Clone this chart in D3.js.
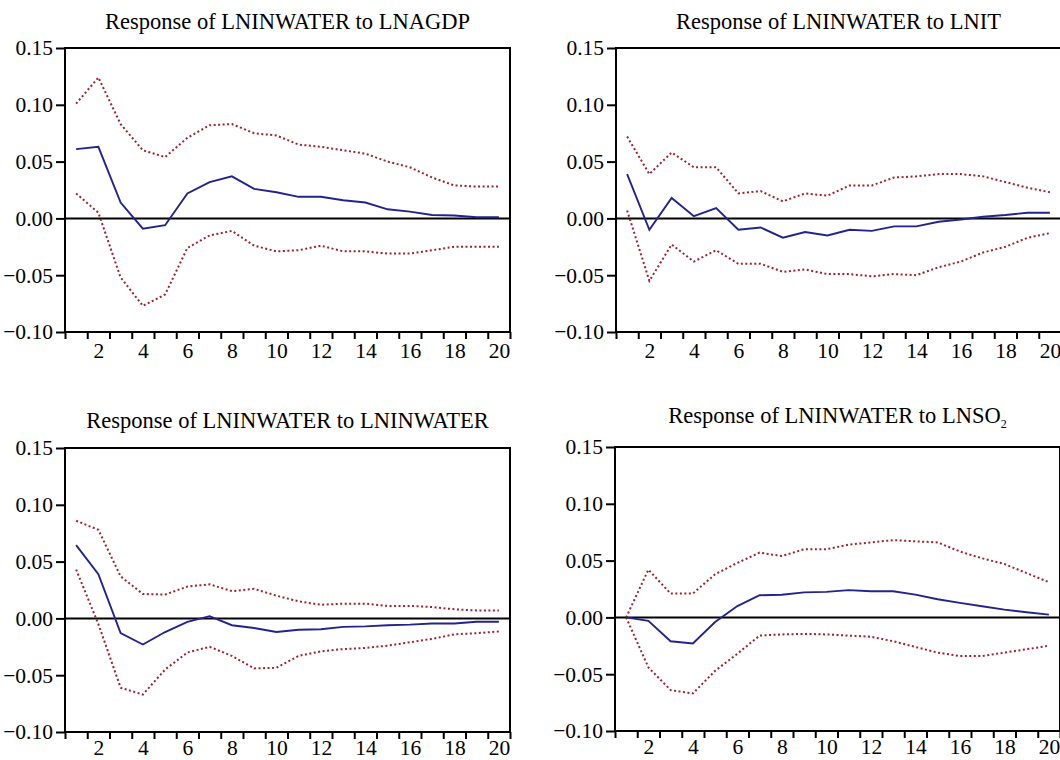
<!DOCTYPE html>
<html>
<head>
<meta charset="utf-8">
<script src="https://cdn.jsdelivr.net/npm/d3@7/dist/d3.min.js"></script>
<style>
  html, body { margin: 0; padding: 0; background: #fff; }
  svg { display: block; }
  text { font-family: "Liberation Serif", "Times New Roman", serif; fill: #000; }
</style>
</head>
<body>
<svg id="chart" width="1060" height="760"></svg>
<script>
// Impulse responses over 20 periods, with ±2 S.E. bands
const periods = d3.range(1, 21);
const yTicks = [-0.10, -0.05, 0.00, 0.05, 0.10, 0.15];
const xTickLabels = [2, 4, 6, 8, 10, 12, 14, 16, 18, 20];

const agdpResp  = [0.061, 0.063, 0.014, -0.009, -0.006, 0.022, 0.032, 0.037, 0.026, 0.023, 0.019, 0.019, 0.016, 0.014, 0.008, 0.006, 0.003, 0.0025, 0.001, 0.001];
const agdpUpper = [0.101, 0.124, 0.083, 0.060, 0.054, 0.071, 0.082, 0.083, 0.075, 0.073, 0.065, 0.063, 0.060, 0.057, 0.050, 0.045, 0.036, 0.029, 0.028, 0.028];
const agdpLower = [0.022, 0.005, -0.052, -0.077, -0.067, -0.026, -0.015, -0.011, -0.024, -0.029, -0.028, -0.024, -0.029, -0.029, -0.031, -0.031, -0.028, -0.025, -0.025, -0.025];

const itResp  = [0.039, -0.010, 0.018, 0.002, 0.009, -0.010, -0.008, -0.017, -0.012, -0.015, -0.010, -0.011, -0.007, -0.007, -0.003, -0.001, 0.0015, 0.003, 0.005, 0.005];
const itUpper = [0.072, 0.039, 0.058, 0.045, 0.045, 0.022, 0.024, 0.015, 0.022, 0.020, 0.029, 0.029, 0.036, 0.037, 0.039, 0.039, 0.037, 0.032, 0.027, 0.023];
const itLower = [0.007, -0.055, -0.023, -0.038, -0.028, -0.040, -0.040, -0.047, -0.045, -0.049, -0.049, -0.051, -0.049, -0.050, -0.043, -0.038, -0.030, -0.025, -0.017, -0.013];

const waterResp  = [0.0645, 0.039, -0.013, -0.023, -0.012, -0.003, 0.002, -0.006, -0.0085, -0.012, -0.010, -0.0095, -0.0075, -0.007, -0.006, -0.0055, -0.0045, -0.0045, -0.003, -0.003];
const waterUpper = [0.086, 0.078, 0.037, 0.0215, 0.021, 0.028, 0.030, 0.024, 0.026, 0.020, 0.015, 0.012, 0.013, 0.013, 0.011, 0.011, 0.010, 0.008, 0.007, 0.007];
const waterLower = [0.043, -0.005, -0.061, -0.067, -0.045, -0.030, -0.025, -0.033, -0.044, -0.0435, -0.033, -0.029, -0.027, -0.026, -0.024, -0.021, -0.018, -0.014, -0.013, -0.0115];

const so2Resp  = [0.000, -0.003, -0.021, -0.023, -0.004, 0.010, 0.0195, 0.020, 0.022, 0.0225, 0.024, 0.023, 0.023, 0.020, 0.016, 0.0128, 0.0098, 0.0068, 0.0045, 0.0024];
const so2Upper = [0.000, 0.042, 0.021, 0.021, 0.038, 0.048, 0.057, 0.054, 0.060, 0.060, 0.064, 0.066, 0.068, 0.067, 0.066, 0.058, 0.052, 0.047, 0.039, 0.031];
const so2Lower = [0.000, -0.044, -0.064, -0.067, -0.047, -0.032, -0.016, -0.015, -0.0145, -0.015, -0.016, -0.017, -0.021, -0.026, -0.031, -0.034, -0.034, -0.031, -0.028, -0.025];

const panels = [
  { shock: "LNAGDP",    sub: null, resp: agdpResp,  upper: agdpUpper,  lower: agdpLower,  left: 65,  top: 48,  titleY: 29,  labelPad: 11 },
  { shock: "LNIT",      sub: null, resp: itResp,    upper: itUpper,    lower: itLower,    left: 616, top: 48,  titleY: 29,  labelPad: 11 },
  { shock: "LNINWATER", sub: null, resp: waterResp, upper: waterUpper, lower: waterLower, left: 65,  top: 448, titleY: 428, labelPad: 8 },
  { shock: "LNSO",      sub: "2",  resp: so2Resp,   upper: so2Upper,   lower: so2Lower,   left: 615, top: 447, titleY: 423, labelPad: 8 }
];

const W = 445, H = 284;
const svg = d3.select("#chart");
const tickFont = 21.5;
const titleFont = 22.5;

panels.forEach(p => {
  const g = svg.append("g").attr("transform", `translate(${p.left},${p.top})`);
  const x = d3.scaleLinear().domain([0.5, 20.5]).range([0, W]);
  const y = d3.scaleLinear().domain([-0.10, 0.15]).range([H, 0]);

  // title
  const t = svg.append("text")
    .attr("x", p.left + W / 2).attr("y", p.titleY)
    .attr("text-anchor", "middle")
    .style("font-size", titleFont + "px")
    .text(`Response of LNINWATER to ${p.shock}`);
  if (p.sub) {
    t.append("tspan").attr("dy", 5).style("font-size", "12px").text(p.sub);
  }

  // zero line
  g.append("line")
    .attr("x1", 0).attr("x2", W)
    .attr("y1", y(0)).attr("y2", y(0))
    .attr("stroke", "#000").attr("stroke-width", 2);

  // confidence bands
  const line = d3.line().x((d, i) => x(periods[i])).y(d => y(d));
  [p.upper, p.lower].forEach(band => {
    g.append("path").datum(band)
      .attr("d", line)
      .attr("fill", "none")
      .attr("stroke", "#9b2335")
      .attr("stroke-width", 2)
      .attr("stroke-dasharray", "2,2.5");
  });

  // response
  g.append("path").datum(p.resp)
    .attr("d", line)
    .attr("fill", "none")
    .attr("stroke", "#23238f")
    .attr("stroke-width", 1.9);

  // frame
  g.append("rect")
    .attr("x", 0).attr("y", 0).attr("width", W).attr("height", H)
    .attr("fill", "none").attr("stroke", "#000").attr("stroke-width", 2);

  // y axis
  const ya = g.append("g").call(
    d3.axisLeft(y).tickValues(yTicks).tickSize(9).tickPadding(3)
      .tickFormat(d3.format(".2f")));
  ya.select(".domain").remove();
  ya.selectAll("line").attr("stroke", "#000").attr("stroke-width", 2);
  ya.selectAll("text").style("font-size", tickFont + "px")
    .style("font-family", "Liberation Serif, Times New Roman, serif");

  // x axis: ticks at period boundaries
  const xb = g.append("g").attr("transform", `translate(0,${H})`).call(
    d3.axisBottom(x).tickValues(d3.range(0.5, 21, 1)).tickSize(7).tickFormat(""));
  xb.select(".domain").remove();
  xb.selectAll("line").attr("stroke", "#000").attr("stroke-width", 2);

  // x axis: labels at period centres
  const xl = g.append("g").attr("transform", `translate(0,${H})`).call(
    d3.axisBottom(x).tickValues(xTickLabels).tickSize(0).tickPadding(p.labelPad)
      .tickFormat(d3.format("d")));
  xl.select(".domain").remove();
  xl.selectAll("text").style("font-size", tickFont + "px")
    .style("font-family", "Liberation Serif, Times New Roman, serif");
});
</script>
</body>
</html>
